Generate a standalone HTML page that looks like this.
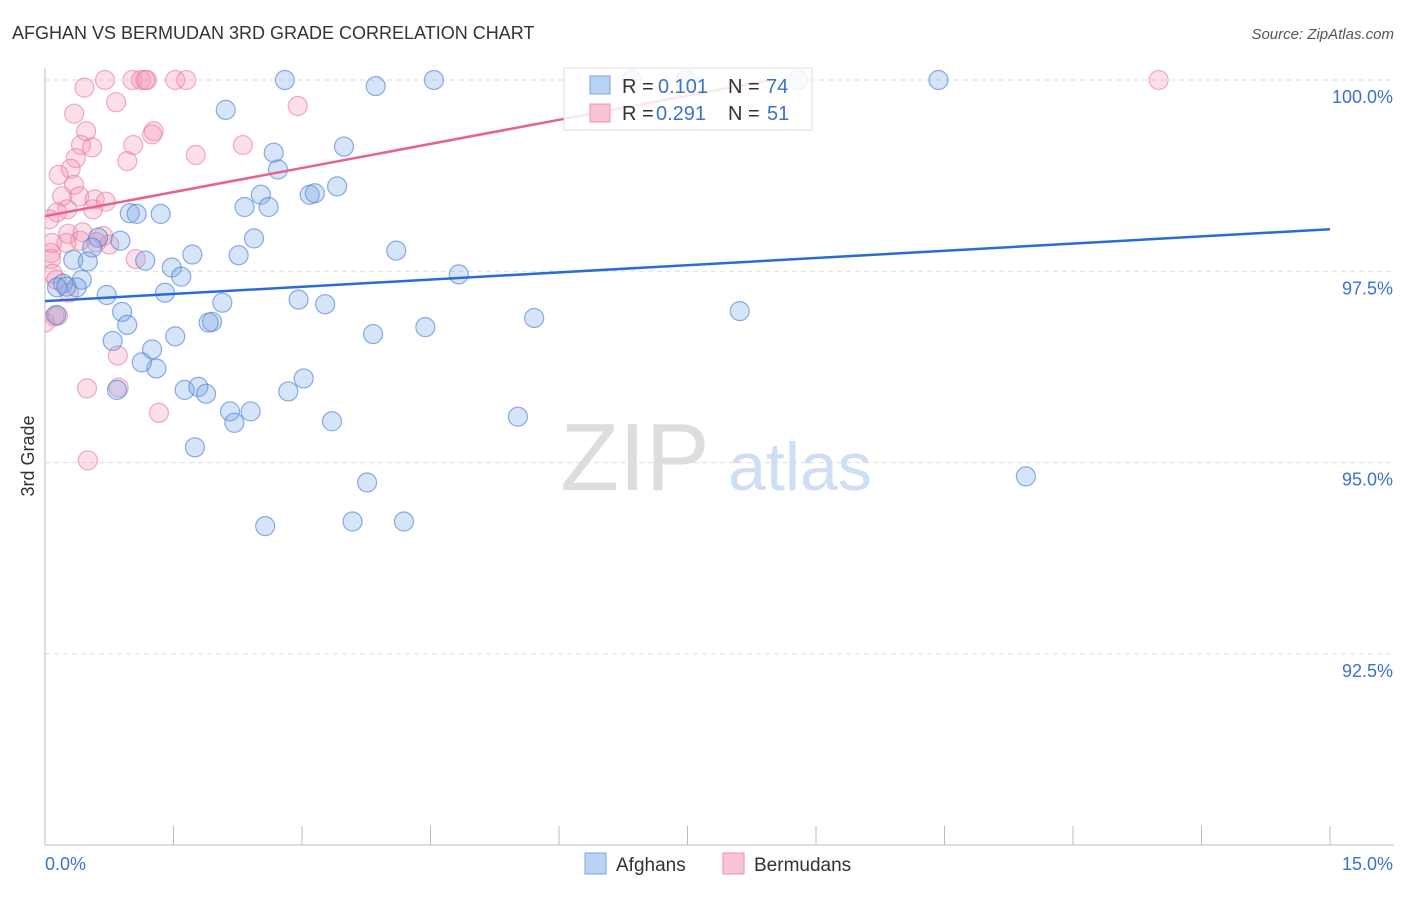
<!DOCTYPE html>
<html><head><meta charset="utf-8">
<style>
body{margin:0;background:#fff;font-family:"Liberation Sans",sans-serif;}
svg text{font-family:"Liberation Sans",sans-serif;}
</style></head>
<body>
<svg id="chart" width="1406" height="892">
<text x="12" y="39" font-size="18" fill="#333">AFGHAN VS BERMUDAN 3RD GRADE CORRELATION CHART</text>
<text x="1394" y="39" font-size="15" fill="#555" font-style="italic" text-anchor="end">Source: ZipAtlas.com</text>
<text x="34" y="456" font-size="18" fill="#333" text-anchor="middle" transform="rotate(-90 34 456)">3rd Grade</text>
<g>
<text x="635" y="490" font-size="96" fill="#ddd" font-family="Liberation Serif" text-anchor="middle">ZIP</text>
<text x="800" y="490" font-size="68" fill="#cfdff3" text-anchor="middle">atlas</text>
</g>
<g id="grid"></g>
<g id="axes"></g>
<defs><clipPath id="plotclip"><rect x="45" y="68" width="1350" height="777"/></clipPath></defs>
<g id="pts" clip-path="url(#plotclip)"></g>
<g id="trend" clip-path="url(#plotclip)"></g>
<g>
<rect x="564" y="68" width="248" height="62" fill="rgba(255,255,255,0.85)" stroke="#ddd"/>
<rect x="590" y="76" width="20" height="18" fill="#b9d3f5" stroke="#7ba6e3"/>
<text x="622" y="93" font-size="20" fill="#333">R = </text><text x="658" y="93" font-size="20" fill="#3a72d0">0.101</text>
<text x="728" y="93" font-size="20" fill="#333">N = </text><text x="766" y="93" font-size="20" fill="#3a72d0">74</text>
<rect x="590" y="104" width="20" height="18" fill="#f9c4d3" stroke="#ea92ad"/>
<text x="622" y="120" font-size="20" fill="#333">R = </text><text x="656" y="120" font-size="20" fill="#3a72d0">0.291</text>
<text x="728" y="120" font-size="20" fill="#333">N = </text><text x="767" y="120" font-size="20" fill="#3a72d0">51</text>
</g>
<g>
<rect x="585" y="853" width="21" height="21" fill="#b9d3f5" stroke="#7ba6e3"/>
<text x="616" y="871" font-size="19" fill="#333">Afghans</text>
<rect x="723" y="853" width="21" height="21" fill="#f9c4d3" stroke="#ea92ad"/>
<text x="754" y="871" font-size="19" fill="#333">Bermudans</text>
</g>
</svg>
<script>
const xTicks=[0,1.5,3,4.5,6,7.5,9,10.5,12,13.5,15];
const yTicks=[92.5,95,97.5,100];
const yTickLabels=["92.5%","95.0%","97.5%","100.0%"];
const xEndLabels=["0.0%","15.0%"];
const afghanX=[2.8,3.86,4.54,6.85,7.48,8.79,10.43,2.11,2.67,2.72,3.49,3.41,3.09,3.15,2.52,2.33,2.61,0.99,1.07,1.35,2.44,2.26,1.72,1.17,1.48,1.59,0.62,0.55,0.33,4.1,4.83,0.43,0.21,0.14,0.37,0.72,1.4,2.07,2.96,3.27,0.9,0.96,1.95,1.91,0.79,1.52,1.25,1.3,1.13,3.83,4.44,5.71,8.11,3.02,2.84,1.63,1.79,1.88,0.84,2.16,2.4,2.21,3.35,5.52,1.75,3.76,2.57,3.59,4.19,11.45,0.13,0.5,0.88,0.25];
const afghanY=[100,99.92,100,100,100,100,100,99.61,99.05,98.83,99.13,98.61,98.5,98.52,98.5,98.34,98.34,98.26,98.25,98.25,97.93,97.71,97.72,97.64,97.55,97.43,97.94,97.81,97.65,97.77,97.46,97.39,97.34,97.29,97.29,97.19,97.22,97.09,97.13,97.07,96.97,96.8,96.84,96.83,96.59,96.65,96.48,96.23,96.31,96.68,96.77,96.89,96.98,96.1,95.93,95.95,95.99,95.9,95.95,95.67,95.67,95.52,95.54,95.6,95.2,94.74,94.17,94.23,94.23,94.82,96.93,97.63,97.9,97.3];
const bermX=[0.7,1.02,1.12,1.19,1.17,1.52,1.65,13.0,0.46,0.83,2.95,0.34,1.27,1.25,0.48,2.31,1.03,0.42,0.55,1.76,0.96,0.36,0.30,0.16,0.34,0.20,0.40,0.58,0.71,0.56,0.26,0.14,0.05,0.27,0.44,0.41,0.68,0.75,0.25,0.08,0.07,0.07,1.06,0.09,0.13,0.28,0.11,0.0,0.85,0.49,0.86,1.33,0.5,0.15,0.6];
const bermY=[100,100,100,100,100,100,100,100,99.9,99.71,99.66,99.56,99.33,99.29,99.33,99.15,99.15,99.15,99.12,99.02,98.94,98.98,98.84,98.76,98.63,98.48,98.48,98.44,98.41,98.31,98.31,98.27,98.18,97.99,98.01,97.9,97.96,97.85,97.87,97.87,97.74,97.66,97.66,97.47,97.39,97.22,96.91,96.83,96.4,95.97,95.98,95.65,95.03,96.92,97.88];
const afghanTrend=[97.11,98.05];
const bermTrend=[98.22,99.9];
const trendX=[0,15];
const bermTrendX=[0,8.0];

const X=v=>45+v/15*1285;
const Y=v=>80+(100-v)/2.5*191.3;
const NS="http://www.w3.org/2000/svg";
function mk(tag,attrs,parent){const e=document.createElementNS(NS,tag);for(const k in attrs)e.setAttribute(k,attrs[k]);parent.appendChild(e);return e;}
const grid=document.getElementById('grid'),axes=document.getElementById('axes'),pts=document.getElementById('pts'),trend=document.getElementById('trend');
yTicks.forEach((t,i)=>{
 const l=mk('line',{x1:45,x2:1394,y1:Y(t),y2:Y(t),stroke:'#ddd','stroke-dasharray':'5,4'},grid);
 
 
 const tx=mk('text',{x:1393,y:Y(t)+23,'font-size':18,fill:'#3a72d0','text-anchor':'end'},axes);
 tx.textContent=yTickLabels[i];
 
 
});
const ya=mk('line',{x1:45,x2:45,y1:68,y2:845,stroke:'#bbb'},axes);


const xa=mk('line',{x1:45,x2:1394,y1:845,y2:845,stroke:'#bbb'},axes);


xTicks.forEach(t=>{
 const l=mk('line',{x1:X(t),x2:X(t),y1:826,y2:845,stroke:'#bbb'},axes);
 
 
});
const xl0=mk('text',{x:45,y:870,'font-size':18,fill:'#3a72d0'},axes);
xl0.textContent=xEndLabels[0];


const xl1=mk('text',{x:1393,y:870,'font-size':18,fill:'#3a72d0','text-anchor':'end'},axes);
xl1.textContent=xEndLabels[1];


bermX.forEach((v,i)=>{
 const c=mk('circle',{cx:X(v),cy:Y(bermY[i]),r:9.5,fill:'rgba(244,150,180,0.3)',stroke:'rgba(232,120,155,0.6)','stroke-width':1.2},pts);
 
 
});
afghanX.forEach((v,i)=>{
 const c=mk('circle',{cx:X(v),cy:Y(afghanY[i]),r:9.5,fill:'rgba(120,165,230,0.3)',stroke:'rgba(80,130,215,0.65)','stroke-width':1.2},pts);
 
 
});
const bl=mk('line',{x1:X(trendX[0]),y1:Y(afghanTrend[0]),x2:X(trendX[1]),y2:Y(afghanTrend[1]),stroke:'#2a6bd6','stroke-width':2.5},trend);


const slope=(bermTrend[1]-bermTrend[0])/(bermTrendX[1]-bermTrendX[0]);
const xEnd=bermTrendX[0]+(100-bermTrend[0])/slope;
const pl=mk('line',{x1:X(bermTrendX[0]),y1:Y(bermTrend[0]),x2:X(xEnd),y2:Y(100),stroke:'#e8628e','stroke-width':2.5},trend);


</script>
</body></html>
